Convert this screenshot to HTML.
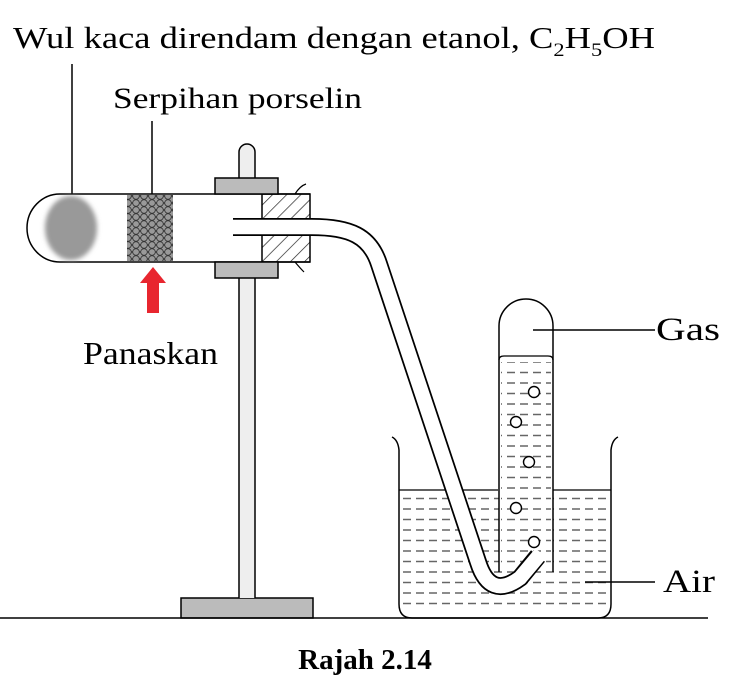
<!DOCTYPE html>
<html><head><meta charset="utf-8"><style>html,body{margin:0;padding:0;background:#fff}svg{display:block}</style></head>
<body>
<svg width="732" height="690" viewBox="0 0 732 690" xmlns="http://www.w3.org/2000/svg" font-family="Liberation Serif, serif">
<defs>
<pattern id="dash" width="13" height="10.5" patternUnits="userSpaceOnUse">
<line x1="0" y1="5" x2="8" y2="5" stroke="#666" stroke-width="1.5"/>
</pattern>
<pattern id="hatch" width="10" height="10" patternUnits="userSpaceOnUse" patternTransform="rotate(45)">
<line x1="0" y1="0" x2="0" y2="10" stroke="#222" stroke-width="1.4"/>
</pattern>
<pattern id="chips" width="8" height="7" patternUnits="userSpaceOnUse">
<circle cx="4" cy="3.5" r="3.3" fill="#999" stroke="#333" stroke-width="0.8"/>
<circle cx="0" cy="0" r="3.3" fill="#999" stroke="#333" stroke-width="0.8"/>
<circle cx="8" cy="0" r="3.3" fill="#999" stroke="#333" stroke-width="0.8"/>
<circle cx="0" cy="7" r="3.3" fill="#999" stroke="#333" stroke-width="0.8"/>
<circle cx="8" cy="7" r="3.3" fill="#999" stroke="#333" stroke-width="0.8"/>
</pattern>
<filter id="blur"><feGaussianBlur stdDeviation="2.5"/></filter>
</defs>

<text x="13" y="48" font-size="31" textLength="642" lengthAdjust="spacingAndGlyphs">Wul kaca direndam dengan etanol, C<tspan font-size="19" dy="8">2</tspan><tspan dy="-8">H</tspan><tspan font-size="19" dy="8">5</tspan><tspan dy="-8">OH</tspan></text>
<text x="113" y="108" font-size="30" textLength="249" lengthAdjust="spacingAndGlyphs">Serpihan porselin</text>
<line x1="72" y1="64" x2="72" y2="215" stroke="#000" stroke-width="1.5"/>
<line x1="152" y1="121" x2="152" y2="213" stroke="#000" stroke-width="1.5"/>

<rect x="181" y="598" width="132" height="20" fill="#bbb" stroke="#000" stroke-width="1.5"/>
<path d="M239,598 V152 A8,8 0 0 1 255,152 V598" fill="#eee" stroke="#000" stroke-width="1.5"/>

<path d="M310,194 H60 A33,34 0 0 0 60,262 H310" fill="#fff" stroke="#000" stroke-width="1.5"/>
<ellipse cx="71" cy="228" rx="26" ry="32" fill="#999" filter="url(#blur)"/>
<rect x="127" y="195" width="46" height="66" fill="url(#chips)"/>
<rect x="262" y="194" width="48" height="68" fill="url(#hatch)" stroke="#000" stroke-width="1.5"/>
<path d="M295,194 Q300,186 306,184 M295,262 Q300,268 304,272" fill="none" stroke="#000" stroke-width="1.2"/>
<rect x="215" y="178" width="63" height="16" fill="#bbb" stroke="#000" stroke-width="1.5"/>
<rect x="215" y="262" width="63" height="16" fill="#bbb" stroke="#000" stroke-width="1.5"/>

<path d="M147,313 V283 H140 L153,267 L166,283 H159 V313 Z" fill="#e8262f"/>
<text x="83" y="364" font-size="32" textLength="135" lengthAdjust="spacingAndGlyphs">Panaskan</text>

<path d="M399,490 H611 V604 Q611,615 600,615 H410 Q399,615 399,604 Z" fill="#fff"/>
<rect x="402" y="493" width="207" height="120" fill="url(#dash)"/>
<line x1="399" y1="490" x2="498" y2="490" stroke="#000" stroke-width="1.3"/>
<line x1="553" y1="490" x2="611" y2="490" stroke="#000" stroke-width="1.3"/>
<path d="M392,437 Q398,440 399,450 V604 Q399,618 412,618 H598 Q611,618 611,604 V450 Q612,440 618,437" fill="none" stroke="#000" stroke-width="1.5"/>

<rect x="499" y="360" width="54" height="210" fill="#fff"/>
<rect x="501" y="362" width="50" height="208" fill="url(#dash)"/>
<path d="M499,572 V326 A27,27 0 0 1 553,326 V572" fill="none" stroke="#000" stroke-width="1.5"/>
<path d="M499,360 Q499,356 504,356 H548 Q553,356 553,360" fill="none" stroke="#000" stroke-width="1.3"/>
<g fill="#fff" stroke="#000" stroke-width="1.4">
<circle cx="534" cy="392" r="5.5"/><circle cx="516" cy="422" r="5.5"/><circle cx="529" cy="462" r="5.5"/><circle cx="516" cy="508" r="5.5"/><circle cx="534" cy="542" r="5.5"/>
</g>

<path d="M233,227 L312,227 C350,227 370,236 379,264 L478,562 Q490,600 520,578 L538,556" fill="none" stroke="#000" stroke-width="18"/>
<path d="M230,227 L312,227 C350,227 370,236 379,264 L478,562 Q490,600 520,578 L541,553" fill="none" stroke="#fff" stroke-width="14.5"/>

<line x1="533" y1="330" x2="655" y2="330" stroke="#000" stroke-width="1.5"/>
<text x="656" y="340" font-size="33" textLength="64" lengthAdjust="spacingAndGlyphs">Gas</text>
<line x1="585" y1="582" x2="655" y2="582" stroke="#000" stroke-width="1.5"/>
<text x="663" y="592" font-size="33" textLength="52" lengthAdjust="spacingAndGlyphs">Air</text>

<line x1="0" y1="618" x2="708" y2="618" stroke="#000" stroke-width="1.5"/>
<text x="365" y="669" font-size="29" font-weight="bold" text-anchor="middle">Rajah 2.14</text>
</svg>
</body></html>
